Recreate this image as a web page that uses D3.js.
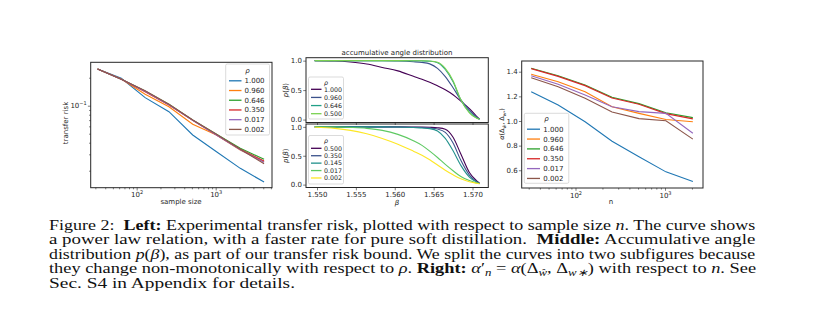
<!DOCTYPE html>
<html>
<head>
<meta charset="utf-8">
<script src="https://cdn.jsdelivr.net/npm/d3@7"></script>
<style>
  body { margin: 0; background: #fff; }
  svg text { font-family: "DejaVu Sans", sans-serif; fill: #262626; }
  svg text.cap { font-family: "Liberation Serif", serif; fill: #111; white-space: pre; }
</style>
</head>
<body>
<svg id="fig" width="815" height="324"></svg>
<script>
// ---- left panel: transfer risk vs sample size
const sampleSizes = [32, 64, 128, 256, 512, 1024, 2048, 4096];
const rhoLeft = ["1.000", "0.960", "0.646", "0.350", "0.017", "0.002"];
const risk1000 = [0.248, 0.197, 0.122, 0.0862, 0.0484, 0.0320, 0.0212, 0.0151];
const risk0960 = [0.248, 0.194, 0.1326, 0.0975, 0.0631, 0.0484, 0.0334, 0.0250];
const risk0646 = [0.248, 0.1923, 0.1439, 0.1035, 0.0702, 0.0493, 0.0348, 0.0265];
const risk0350 = [0.248, 0.1923, 0.1414, 0.1017, 0.0697, 0.0484, 0.0340, 0.0254];
const risk0017 = [0.248, 0.1923, 0.1428, 0.1025, 0.0697, 0.0484, 0.0336, 0.0246];
const risk0002 = [0.248, 0.1923, 0.1450, 0.1035, 0.0702, 0.0493, 0.0340, 0.0238];

// ---- middle panel: accumulative angle distribution p(beta)
const betaGrid = [1.5497, 1.5523, 1.5543, 1.5564, 1.5584, 1.5604, 1.5624, 1.5635,
                  1.5645, 1.5655, 1.5665, 1.5675, 1.5685, 1.5696, 1.5705, 1.5709];
const rhoUpper = ["1.000", "0.960", "0.646", "0.500"];
const pUp1000 = [1.0, 0.995, 0.978, 0.944, 0.885, 0.826, 0.734, 0.683, 0.632, 0.573, 0.506, 0.422, 0.312, 0.186, 0.059, 0.008];
const pUp0960 = [1.0, 1.0, 1.0, 0.999, 0.998, 0.994, 0.982, 0.970, 0.945, 0.870, 0.730, 0.540, 0.335, 0.160, 0.045, 0.008];
const pUp0646 = [1.0, 1.0, 1.0, 1.0, 1.0, 1.0, 0.999, 0.997, 0.990, 0.965, 0.850, 0.640, 0.330, 0.125, 0.030, 0.005];
const pUp0500 = [1.0, 1.0, 1.0, 1.0, 1.0, 1.0, 0.999, 0.998, 0.993, 0.972, 0.870, 0.660, 0.335, 0.115, 0.025, 0.004];
const rhoLower = ["0.500", "0.350", "0.145", "0.017", "0.002"];
const pLo0500 = [1.0, 1.0, 1.0, 1.0, 1.0, 1.0, 0.999, 0.997, 0.993, 0.985, 0.960, 0.820, 0.530, 0.210, 0.070, 0.025];
const pLo0350 = [1.0, 1.0, 1.0, 1.0, 1.0, 0.999, 0.995, 0.990, 0.980, 0.963, 0.904, 0.720, 0.420, 0.165, 0.055, 0.020];
const pLo0145 = [1.0, 1.0, 1.0, 1.0, 1.0, 0.998, 0.990, 0.980, 0.970, 0.930, 0.800, 0.585, 0.333, 0.131, 0.047, 0.020];
const pLo0017 = [1.0, 0.997, 0.990, 0.975, 0.940, 0.870, 0.760, 0.680, 0.580, 0.470, 0.350, 0.240, 0.140, 0.070, 0.030, 0.015];
const pLo0002 = [0.995, 0.975, 0.940, 0.880, 0.800, 0.700, 0.580, 0.510, 0.430, 0.340, 0.250, 0.170, 0.100, 0.050, 0.025, 0.015];
const betaTicks = [1.550, 1.555, 1.560, 1.565, 1.570];
const pTicks = [0.0, 0.5, 1.0];

// ---- right panel: alpha vs n
const nRight = [32, 64, 128, 256, 512, 1024, 2048];
const alpha1000 = [1.238, 1.130, 0.994, 0.835, 0.710, 0.587, 0.508];
const alpha0960 = [1.379, 1.319, 1.238, 1.116, 1.062, 1.012, 0.994];
const alpha0646 = [1.428, 1.368, 1.292, 1.192, 1.141, 1.067, 1.027];
const alpha0350 = [1.425, 1.362, 1.287, 1.186, 1.136, 1.060, 1.017];
const alpha0017 = [1.368, 1.298, 1.211, 1.116, 1.076, 1.062, 0.900];
const alpha0002 = [1.351, 1.278, 1.184, 1.073, 1.019, 1.002, 0.853];
const alphaTicks = [0.6, 0.8, 1.0, 1.2, 1.4];

const svg = d3.select("#fig");
const ink = "#262626";
const tab10 = ["#1f77b4", "#ff7f0e", "#2ca02c", "#d62728", "#9467bd", "#8c564b"];
const viridisUp = ["#440154", "#3b528b", "#21a087", "#7ad151"];
const viridisLo = ["#440154", "#3b528b", "#21918c", "#5ec962", "#fde725"];

svg.append("rect").attr("width", 815).attr("height", 324).attr("fill", "#fff");

function frame(x0, y0, x1, y1) {
  svg.append("rect").attr("x", x0).attr("y", y0).attr("width", x1 - x0).attr("height", y1 - y0)
    .attr("fill", "none").attr("stroke", ink).attr("stroke-width", 1);
}

function ticks(gen, transform, vals, size, fmt, pad) {
  const g = svg.append("g").attr("transform", transform)
    .call(gen.tickValues(vals).tickSize(size).tickPadding(pad == null ? 2 : pad).tickFormat(fmt || (() => "")));
  g.select(".domain").remove();
  g.attr("font-family", "DejaVu Sans").attr("font-size", 7);
  g.selectAll("line").attr("stroke", ink).attr("stroke-width", 0.6);
  g.selectAll("text").attr("fill", ink);
  return g;
}

const isPow10 = v => Math.abs(Math.log10(v) - Math.round(Math.log10(v))) < 1e-9;

function powLabels(g) {
  g.selectAll("text").each(function(d) {
    const t = d3.select(this).text("10");
    t.append("tspan").attr("dy", -3).attr("font-size", 5)
      .text(String(Math.round(Math.log10(d))).replace("-", "\u2212"));
  });
}

function legend(o) {
  const g = svg.append("g");
  g.append("rect").attr("x", o.x).attr("y", o.y).attr("width", o.w).attr("height", o.h).attr("rx", 1.5)
    .attr("fill", "#fff").attr("fill-opacity", 0.85).attr("stroke", "#cccccc").attr("stroke-width", 0.7);
  g.append("text").attr("x", o.x + o.w / 2).attr("y", o.titleY).attr("dy", "0.35em")
    .attr("text-anchor", "middle").attr("font-size", o.fs).attr("font-style", "italic").text("\u03c1");
  const row = g.selectAll("g.row").data(o.labels).join("g").attr("class", "row")
    .attr("transform", (d, i) => `translate(0,${o.y0 + i * o.step})`);
  row.append("line").attr("x1", o.hx0).attr("x2", o.hx1)
    .attr("stroke", (d, i) => o.colors[i]).attr("stroke-width", 1.3);
  row.append("text").attr("x", o.tx).attr("dy", "0.36em").attr("font-size", o.fs).text(d => d);
}

// ================= LEFT =================
const L = {x0: 90.7, x1: 272, y0: 62.3, y1: 187.7};
const xL = d3.scaleLog([26.2, 5160], [L.x0, L.x1]);
const yL = d3.scaleLog([0.01313, 0.2929], [L.y1, L.y0]);
const riskSeries = [risk1000, risk0960, risk0646, risk0350, risk0017, risk0002];

const lineL = d3.line().x((d, i) => xL(sampleSizes[i])).y(d => yL(d));
svg.append("g").selectAll("path").data(riskSeries).join("path")
  .attr("d", lineL).attr("fill", "none").attr("stroke", (d, i) => tab10[i]).attr("stroke-width", 1.1);
frame(L.x0, L.y0, L.x1, L.y1);

powLabels(ticks(d3.axisBottom(xL), `translate(0,${L.y1})`, [100, 1000], 2.8, d => d));
ticks(d3.axisBottom(xL), `translate(0,${L.y1})`, xL.ticks().filter(v => !isPow10(v)), 1.6);
powLabels(ticks(d3.axisLeft(yL), `translate(${L.x0},0)`, [0.1], 2.8, d => d, 1.2));
ticks(d3.axisLeft(yL), `translate(${L.x0},0)`, yL.ticks().filter(v => !isPow10(v)), 1.6);

svg.append("text").attr("transform", "translate(67.5,123) rotate(-90)").attr("text-anchor", "middle")
  .attr("font-size", 7).text("transfer risk");
svg.append("text").attr("x", 181).attr("y", 204).attr("text-anchor", "middle")
  .attr("font-size", 7).text("sample size");

legend({x: 225.7, y: 64, w: 43.8, h: 71, titleY: 71, y0: 80.8, step: 9.72,
        hx0: 229, hx1: 241.5, tx: 244.5, fs: 7, labels: rhoLeft, colors: tab10});

// ================= MIDDLE =================
const xM = d3.scaleLinear([1.548585, 1.572032], [306, 488.3]);
const MU = {y0: 57.7, y1: 122.5};
const ML = {y0: 124, y1: 187.5};
const yMU = d3.scaleLinear([-0.05, 1.05], [MU.y1, MU.y0]);
const yML = d3.scaleLinear([-0.05, 1.05], [ML.y1, ML.y0]);

const upperSeries = [pUp1000, pUp0960, pUp0646, pUp0500];
const lowerSeries = [pLo0500, pLo0350, pLo0145, pLo0017, pLo0002];

const lineMU = d3.line().curve(d3.curveMonotoneX).x((d, i) => xM(betaGrid[i])).y(d => yMU(d));
const lineML = d3.line().curve(d3.curveMonotoneX).x((d, i) => xM(betaGrid[i])).y(d => yML(d));

svg.append("g").selectAll("path").data(upperSeries).join("path")
  .attr("d", lineMU).attr("fill", "none").attr("stroke", (d, i) => viridisUp[i]).attr("stroke-width", 1.1);
svg.append("g").selectAll("path").data(lowerSeries).join("path")
  .attr("d", lineML).attr("fill", "none").attr("stroke", (d, i) => viridisLo[i]).attr("stroke-width", 1.1);

frame(306, MU.y0, 488.3, MU.y1);
frame(306, ML.y0, 488.3, ML.y1);

ticks(d3.axisBottom(xM), `translate(0,${MU.y1})`, betaTicks, 2.5);
ticks(d3.axisBottom(xM), `translate(0,${ML.y1})`, betaTicks, 2.8, d3.format(".3f"));
ticks(d3.axisLeft(yMU), "translate(306,0)", pTicks, 2.8, d3.format(".1f"), 1.2);
ticks(d3.axisLeft(yML), "translate(306,0)", pTicks, 2.8, d3.format(".1f"), 1.2);

svg.append("text").attr("x", 397).attr("y", 54.5).attr("text-anchor", "middle")
  .attr("font-size", 7).text("accumulative angle distribution");
[yMU, yML].forEach(s => {
  const t = svg.append("text").attr("transform", `translate(287.5,${s(0.5)}) rotate(-90)`)
    .attr("text-anchor", "middle").attr("font-size", 7);
  t.append("tspan").attr("font-style", "italic").text("p");
  t.append("tspan").text("(");
  t.append("tspan").attr("font-style", "italic").text("\u03b2");
  t.append("tspan").text(")");
});
svg.append("text").attr("x", 397).attr("y", 205).attr("text-anchor", "middle")
  .attr("font-size", 7).attr("font-style", "italic").text("\u03b2");

legend({x: 308.5, y: 77, w: 35, h: 42, titleY: 82.3, y0: 89.3, step: 8.13,
        hx0: 311, hx1: 321.5, tx: 324, fs: 6.3, labels: rhoUpper, colors: viridisUp});
legend({x: 308.5, y: 135.5, w: 35, h: 48.5, titleY: 141, y0: 148.3, step: 7.42,
        hx0: 311, hx1: 321.5, tx: 324, fs: 6.3, labels: rhoLower, colors: viridisLo});

// ================= RIGHT =================
const R = {x0: 521.7, x1: 703, y0: 61, y1: 188};
const xR = d3.scaleLog([25.06, 2658], [R.x0, R.x1]);
const yR = d3.scaleLinear([0.456, 1.487], [R.y1, R.y0]);
const alphaSeries = [alpha1000, alpha0960, alpha0646, alpha0350, alpha0017, alpha0002];

const lineR = d3.line().x((d, i) => xR(nRight[i])).y(d => yR(d));
svg.append("g").selectAll("path").data(alphaSeries).join("path")
  .attr("d", lineR).attr("fill", "none").attr("stroke", (d, i) => tab10[i]).attr("stroke-width", 1.1);
frame(R.x0, R.y0, R.x1, R.y1);

powLabels(ticks(d3.axisBottom(xR), `translate(0,${R.y1})`, [100, 1000], 2.8, d => d));
ticks(d3.axisBottom(xR), `translate(0,${R.y1})`, xR.ticks().filter(v => !isPow10(v)), 1.6);
ticks(d3.axisLeft(yR), `translate(${R.x0},0)`, alphaTicks, 2.8, d3.format(".1f"), 1.2);

svg.append("text").attr("x", 611).attr("y", 203.5).attr("text-anchor", "middle")
  .attr("font-size", 7).text("n");
{
  const t = svg.append("text").attr("transform", "translate(504,124) rotate(-90)")
    .attr("text-anchor", "middle").attr("font-size", 6.5);
  t.append("tspan").attr("font-style", "italic").text("\u03b1");
  t.append("tspan").text("(\u0394");
  t.append("tspan").attr("font-size", 4.5).attr("dy", 1.5).attr("font-style", "italic").text("w\u0302");
  t.append("tspan").attr("dy", -1.5).text(", \u0394");
  t.append("tspan").attr("font-size", 4.5).attr("dy", 1.5).attr("font-style", "italic").text("w");
  t.append("tspan").attr("font-size", 3.5).attr("dy", 0.8).text("*");
  t.append("tspan").attr("dy", -2.3).text(")");
}

legend({x: 524.3, y: 113.3, w: 44.5, h: 70, titleY: 118.8, y0: 129.2, step: 9.85,
        hx0: 527, hx1: 540, tx: 543.3, fs: 7, labels: rhoLeft, colors: tab10});

// ================= CAPTION =================
const captionLines = [
  [["Figure 2:  ", ""], ["Left:", "b"], [" Experimental transfer risk, plotted with respect to sample size ", ""], ["n", "i"], [". The curve shows", ""]],
  [["a power law relation, with a faster rate for pure soft distillation.  ", ""], ["Middle:", "b"], [" Accumulative angle", ""]],
  [["distribution ", ""], ["p", "i"], ["(", ""], ["\u03b2", "i"], ["), as part of our transfer risk bound. We split the curves into two subfigures because", ""]],
  [["they change non-monotonically with respect to ", ""], ["\u03c1", "i"], [". ", ""], ["Right:", "b"], [" ", ""], ["\u03b1", "i"], ["\u2032", ""], ["n", "sub"],
   [" = ", ""], ["\u03b1", "i"], ["(\u0394", ""], ["w\u0302", "sub"], [", \u0394", ""], ["w\u2217", "sub"], [") with respect to ", ""], ["n", "i"], [". See", ""]],
  [["Sec. S4 in Appendix for details.", ""]]
];
const capX = 49, capY0 = 229.5, capStep = 14.65, capFs = 14.2;
const capWidths = [706, 706, 706, 706, 246];
captionLines.forEach((segs, li) => {
  const g = svg.append("g");
  const t = g.append("text").attr("class", "cap").attr("font-size", capFs);
  let shift = 0;
  segs.forEach(([s, st]) => {
    const sp = t.append("tspan").text(s);
    const want = st === "sub" ? 3 : 0;
    if (want !== shift) { sp.attr("dy", want - shift); shift = want; }
    if (st === "b") sp.attr("font-weight", "bold");
    if (st === "i") sp.attr("font-style", "italic");
    if (st === "sub") sp.attr("font-style", "italic").attr("font-size", capFs * 0.7);
  });
  const k = capWidths[li] / t.node().getComputedTextLength();
  g.attr("transform", `translate(${capX},${capY0 + li * capStep}) scale(${k},1)`);
});
</script>
</body>
</html>
